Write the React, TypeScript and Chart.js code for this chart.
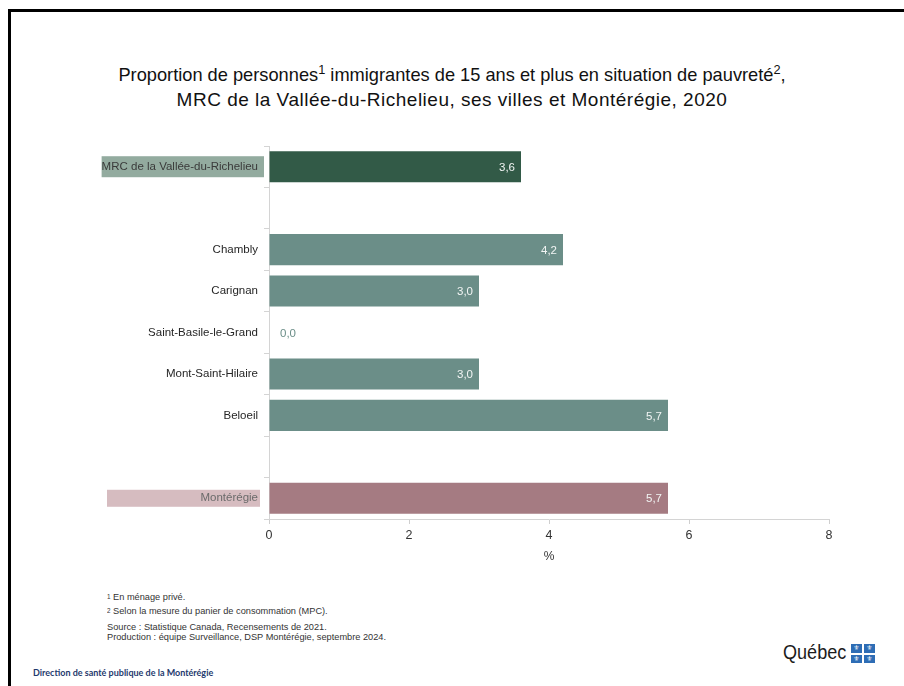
import React, { useEffect, useRef } from "react";
import { Chart, registerables } from "chart.js";

Chart.register(...registerables);

const categories = [
  "MRC de la Vallée-du-Richelieu",
  "",
  "Chambly",
  "Carignan",
  "Saint-Basile-le-Grand",
  "Mont-Saint-Hilaire",
  "Beloeil",
  "",
  "Montérégie",
];
const values: (number | null)[] = [3.6, null, 4.2, 3.0, 0.0, 3.0, 5.7, null, 5.7];
const barColors = ["#325a47", "#6b8e88", "#6b8e88", "#6b8e88", "#6b8e88", "#6b8e88", "#6b8e88", "#6b8e88", "#a57b82"];
const xTicks = [0, 2, 4, 6, 8];

const fmt = (v: number) => v.toFixed(1).replace(".", ",");

const decorPlugin = {
  id: "decor",
  beforeDraw(chart: any) {
    const ctx = chart.ctx;
    const y = chart.scales.y;
    ctx.save();
    ctx.font = "11.5px 'Liberation Sans', Arial, sans-serif";
    const w0 = ctx.measureText(categories[0]).width;
    const right0 = y.right - 7;
    const c0 = y.getPixelForValue(0);
    ctx.fillStyle = "#93ab9f";
    ctx.fillRect(right0 - w0 - 4, c0 - 10.5, w0 + 6, 21);
    const c8 = y.getPixelForValue(8);
    ctx.fillStyle = "#d6bcc0";
    ctx.fillRect(y.left + 17, c8 - 8.5, y.right - 9 - (y.left + 17), 17);
    ctx.restore();
  },
  afterDatasetsDraw(chart: any) {
    const ctx = chart.ctx;
    const meta = chart.getDatasetMeta(0);
    ctx.save();
    ctx.font = "11.5px 'Liberation Sans', Arial, sans-serif";
    ctx.textBaseline = "middle";
    meta.data.forEach((bar: any, i: number) => {
      const v = values[i];
      if (v === null || v === undefined) return;
      if (v > 0) {
        ctx.fillStyle = "#f2f5f4";
        ctx.textAlign = "right";
        ctx.fillText(fmt(v), bar.x - 6, bar.y + 1);
      } else {
        ctx.fillStyle = "#6b8e88";
        ctx.textAlign = "left";
        ctx.fillText(fmt(v), bar.x + 11, bar.y + 1);
      }
    });
    ctx.restore();
  },
};

function ChartCanvas() {
  const ref = useRef<HTMLCanvasElement>(null);
  useEffect(() => {
    if (!ref.current) return;
    const chart = new Chart(ref.current, {
      type: "bar",
      data: {
        labels: categories,
        datasets: [
          {
            data: values as any,
            backgroundColor: barColors,
            barPercentage: 0.75,
            categoryPercentage: 1,
          },
        ],
      },
      options: {
        indexAxis: "y",
        responsive: false,
        animation: false,
        devicePixelRatio: 1,
        layout: { padding: { top: 16, right: 31, bottom: 0, left: 0 } },
        plugins: { legend: { display: false }, tooltip: { enabled: false } },
        scales: {
          x: {
            min: 0,
            max: 8,
            afterBuildTicks: (s: any) => {
              s.ticks = xTicks.map((v) => ({ value: v }));
            },
            afterFit: (s: any) => {
              s.height = 49;
            },
            ticks: {
              color: "#333333",
              font: { family: "'Liberation Sans', Arial, sans-serif", size: 12.5 },
              padding: 4,
            },
            grid: { drawOnChartArea: false, drawTicks: true, tickLength: 5, color: "#cfcfcf" },
            border: { color: "#d4d4d4" },
            title: {
              display: true,
              text: "%",
              color: "#333333",
              font: { family: "'Liberation Sans', Arial, sans-serif", size: 12 },
              padding: { top: 4, bottom: 4 },
            },
          },
          y: {
            afterFit: (s: any) => {
              s.width = 179;
            },
            ticks: {
              color: (c: any) => (c.index === 8 ? "#6b6b6b" : c.index === 0 ? "#3a3a3a" : "#262626"),
              font: { family: "'Liberation Sans', Arial, sans-serif", size: 11.5 },
              padding: 6,
              autoSkip: false,
            },
            grid: { drawOnChartArea: false, drawTicks: true, tickLength: 5, offset: true, color: "#d4d4d4" },
            border: { color: "#d4d4d4" },
          },
        },
      },
      plugins: [decorPlugin],
    });
    return () => chart.destroy();
  }, []);
  return (
    <canvas
      ref={ref}
      width={770}
      height={438}
      style={{ position: "absolute", left: 90, top: 130, width: 770, height: 438 }}
    />
  );
}

const supStyle: React.CSSProperties = { fontSize: "0.7em", verticalAlign: "0.55em", lineHeight: 0 };

export default function App() {
  return (
    <div
      style={{
        position: "fixed",
        left: 0,
        top: 0,
        width: 904,
        height: 686,
        overflow: "hidden",
        background: "#ffffff",
        fontFamily: "'Liberation Sans', Arial, sans-serif",
      }}
    >
      <div
        style={{
          position: "absolute",
          left: 8,
          top: 9,
          width: 920,
          height: 700,
          borderLeft: "3px solid #000",
          borderTop: "3px solid #000",
        }}
      />
      <div
        style={{
          position: "absolute",
          left: 0,
          top: 62,
          width: 904,
          textAlign: "center",
          fontSize: 19,
          lineHeight: "25px",
          color: "#111",
        }}
      >
        <div style={{ transform: "scaleX(0.96)" }}>
          Proportion de personnes<span style={supStyle}>1</span> immigrantes de 15 ans et plus en situation de pauvreté
          <span style={supStyle}>2</span>,
        </div>
        <div style={{ letterSpacing: 0.5 }}>MRC de la Vallée-du-Richelieu, ses villes et Montérégie, 2020</div>
      </div>
      <ChartCanvas />
      <div
        style={{
          position: "absolute",
          left: 107,
          top: 592,
          fontFamily: "'Liberation Sans Narrow', 'Arial Narrow', 'Liberation Sans', sans-serif",
          fontSize: 9.5,
          color: "#333",
          lineHeight: "10.5px",
        }}
      >
        <div style={{ transform: "scaleX(0.97)", transformOrigin: "left" }}>
          <span style={{ fontSize: 6.5, verticalAlign: "top" }}>1</span> En ménage privé.
        </div>
        <div style={{ marginTop: 3.5, transform: "scaleX(0.97)", transformOrigin: "left" }}>
          <span style={{ fontSize: 6.5, verticalAlign: "top" }}>2</span> Selon la mesure du panier de consommation (MPC).
        </div>
        <div style={{ marginTop: 5, transform: "scaleX(0.97)", transformOrigin: "left" }}>
          Source : Statistique Canada, Recensements de 2021.
        </div>
        <div style={{ transform: "scaleX(0.97)", transformOrigin: "left" }}>
          Production : équipe Surveillance, DSP Montérégie, septembre 2024.
        </div>
      </div>
      <div
        style={{
          position: "absolute",
          left: 33,
          top: 667,
          fontFamily: "Lato, 'Open Sans', sans-serif",
          fontWeight: 700,
          fontSize: 9,
          color: "#1f3a6e",
        }}
      >
        Direction de santé publique de la Montérégie
      </div>
      <div
        style={{
          position: "absolute",
          left: 783,
          top: 639,
          fontFamily: "'Liberation Sans', Arial, sans-serif",
          fontSize: 21,
          lineHeight: "26px",
          color: "#1c1c1c",
          transform: "scaleX(0.86)",
          transformOrigin: "left",
          whiteSpace: "nowrap",
        }}
      >
        Québec
      </div>
      <div
        style={{
          position: "absolute",
          left: 851,
          top: 644,
          width: 24,
          height: 19,
          display: "grid",
          gridTemplateColumns: "11px 11px",
          gridTemplateRows: "8.5px 8.5px",
          gap: 2,
        }}
      >
        {[0, 1, 2, 3].map((k) => (
          <div
            key={k}
            style={{
              background: "#2e6db5",
              color: "#fff",
              fontSize: 7,
              lineHeight: "8.5px",
              textAlign: "center",
              fontFamily: "'DejaVu Sans', sans-serif",
            }}
          >
            ⚜
          </div>
        ))}
      </div>
    </div>
  );
}
